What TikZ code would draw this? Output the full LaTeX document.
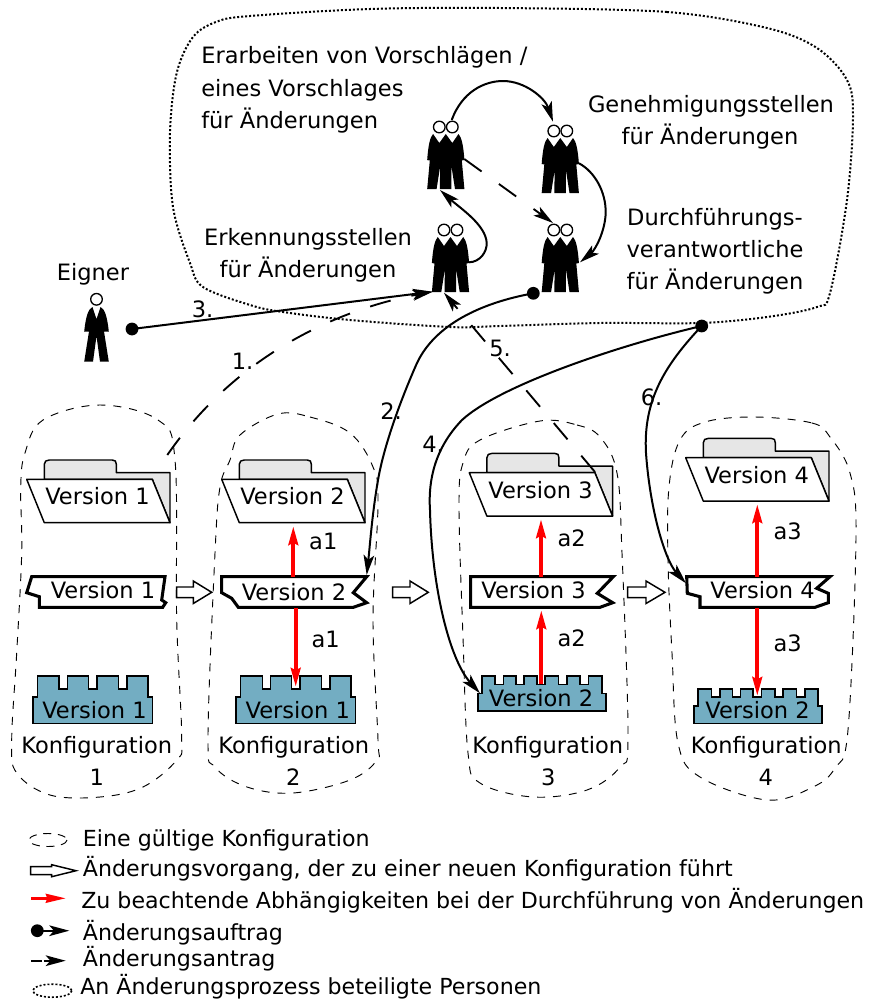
\documentclass[tikz,border=0pt]{standalone}
\usepackage{fontspec}
\setmainfont{DejaVu Sans}
\usetikzlibrary{arrows.meta}
\definecolor{confblue}{HTML}{73ADC2}
\definecolor{foldergray}{HTML}{E6E6E6}
\tikzset{
  x=0.75pt,y=-0.75pt,
  txt/.style={inner sep=0pt,anchor=base,font=\fontsize{16.9pt}{20pt}\selectfont},
  ltxt/.style={inner sep=0pt,anchor=base west,font=\fontsize{16.9pt}{20pt}\selectfont},
  legtxt/.style={inner sep=0pt,anchor=base west,font=\fontsize{16.6pt}{20pt}\selectfont},
  blob/.style={draw,line width=0.7pt,dash pattern=on 6pt off 6pt},
  dotline/.style={draw,line width=1.5pt,dash pattern=on 1.5pt off 1.5pt},
  hollow/.style={draw,fill=white,line width=1.1pt},
  flag/.style={draw,fill=white,line width=2.3pt,miter limit=4},
  conf/.style={draw,fill=confblue,line width=1.2pt},
  fold/.style={draw,line width=1.1pt,line join=round},
  tipk/.style={-{Stealth[length=15pt,width=8pt,inset=3.5pt]}},
  conn/.style={draw,line width=1.5pt,tipk},
  req/.style={draw,line width=1.4pt,dash pattern=on 16pt off 16pt,tipk},
  dep/.style={draw=red,line width=3.2pt,-{Stealth[length=14pt,width=7pt,inset=1.5pt]}},
  dotm/.style={fill=black,circle,minimum size=9.6pt,inner sep=0pt},
  folder/.pic={
    \path[fold,fill=foldergray] (17.6,0) -- (17.6,-15) .. controls (17.6,-18) and (19.6,-19.3) .. (22.6,-19.3)
      -- (85.6,-19.3) .. controls (88.6,-19.3) and (89.6,-18) .. (89.6,-15) -- (89.6,-6.6) -- (143.3,-6.6) -- (143.3,43.4) -- (125.6,0) -- cycle;
    \path[fold,fill=white] (0,0) -- (125.6,0) -- (143.3,43.4) -- (17.6,43.4) -- cycle;
  },
  castlea/.pic={
    \path[conf] (0,47.3) -- (119.6,47.3) -- (119.6,20.7) -- (115,20.7) -- (115,0) -- (94,0) -- (94,12.7) -- (85.6,12.7) -- (85.6,0)
      -- (64,0) -- (64,12.7) -- (55.6,12.7) -- (55.6,0) -- (34.6,0) -- (34.6,12.7) -- (26.3,12.7) -- (26.3,0) -- (4.6,0) -- (4.6,20.7) -- (0,20.7) -- cycle;
  },
  castleb/.pic={
    \path[conf] (0,34.7) -- (128,34.7) -- (128,17.3) -- (124,17.3) -- (124,0) -- (110.7,0) -- (110.7,8.3) -- (102.3,8.3) -- (102.3,0)
      -- (89,0) -- (89,8.3) -- (80.7,8.3) -- (80.7,0) -- (67.3,0) -- (67.3,8.3) -- (59,8.3) -- (59,0) -- (46.3,0) -- (46.3,8.3) -- (38.3,8.3) -- (38.3,0)
      -- (25.7,0) -- (25.7,8.3) -- (17.3,8.3) -- (17.3,0) -- (4,0) -- (4,17.3) -- (0,17.3) -- cycle;
  },
  trio/.pic={
    \fill[black] (-12.7,0) .. controls (-15.5,3) and (-17.5,10) .. (-18.6,26) -- (-16,26.5) -- (-18.6,55) -- (-9.2,55) -- (-5.6,32) -- (-6,55) -- (5.6,55) -- (5.6,32) -- (9.2,55) -- (18.6,55) -- (16,26.5) -- (18.6,26)
      .. controls (17.5,10) and (15.5,3) .. (12.7,0) -- (6.5,9) -- (0,0) -- (-6.5,9) -- cycle;
    \draw[fill=white,line width=1pt] (-6.5,-7) circle [radius=5.8];
    \draw[fill=white,line width=1pt] (6.5,-7) circle [radius=5.8];
  },
  single/.pic={
    \fill[black] (-4,0) .. controls (-8,2) and (-10.5,8) .. (-12.3,24.5) -- (-7.5,24.5) -- (-12.3,54.7) -- (-3.5,54.7) -- (0,29) -- (3.5,54.7) -- (12.3,54.7) -- (7.5,24.5) -- (12.3,24.5)
      .. controls (10.5,8) and (8,2) .. (4,0) -- (0,12) -- cycle;
    \draw[fill=white,line width=1pt] (0,-7.7) circle [radius=5.8];
  },
}
\begin{document}
\begin{tikzpicture}
\useasboundingbox (0,0) rectangle (894,1001);
% dotted cloud
\path[dotline] plot[smooth cycle,tension=0.55] coordinates {(500,8)(667,12)(767,28)(817,48)(847,80)(853,117)(847,200)(830,293)(817,307)(767,317)(700,323)(600,323)(500,326)(450,327)(350,320)(283,312)(250,305)(203,287)(190,263)(173,207)(170,133)(176.7,73)(193,37)(216.7,21.7)(250,16)(370,9)};
% configuration blobs
\path[blob] plot[smooth cycle,tension=0.6] coordinates {(100,405)(158,420)(175,460)(176.7,620)(181.7,737)(176.7,760)(143,787)(100,797)(50,795)(16.7,773)(11.7,740)(16.7,653)(21.7,553)(20.7,487)(25,453)(43,420)};
\path[blob] plot[smooth cycle,tension=0.6] coordinates {(278,414)(310,417)(350,433)(373,467)(378,503)(373,620)(378,740)(377,760)(350,780)(293,793)(247,787)(215,767)(208,737)(215,553)(220,487)(230,460)(240,435)};
\path[blob] plot[smooth cycle,tension=0.6] coordinates {(540,421)(577,425)(600,437)(617,473)(622,553)(628,737)(620,767)(587,790)(533,797)(480,783)(468,753)(463,637)(459,507)(463,463)(480,440)};
\path[blob] plot[smooth cycle,tension=0.6] coordinates {(755,417)(812,423)(830,437)(850,473)(856,537)(848,730)(835,768)(813,787)(767,800)(700,777)(678,743)(672,653)(668,560)(669,487)(680,440)(705,422)};
% folders
\pic (fa) at (26.7,479.3) {folder};
\pic (fb) at (221.7,479.3) {folder};
\pic (fc) at (469.3,472.7) {folder};
\pic (fd) at (685.7,457.7) {folder};
% change flags
\path[flag] (31.7,576.7) -- (165,576.7) -- (161.7,600) -- (165.7,602.7) -- (162.7,607.3) -- (39.3,607.3) -- (39.3,596.7) -- (26.7,592.7) -- cycle;
\path[flag] (221.7,576.7) -- (366.7,576.7) -- (353.3,592.7) -- (366.7,602.7) -- (353.3,607.3) -- (238.3,607.3) -- (231.7,598.3) -- (221.7,592.7) -- cycle;
\path[flag] (470.7,576.7) -- (613.3,576.7) -- (597.3,593.3) -- (612.7,602.7) -- (600,607.3) -- (470.7,607.3) -- cycle;
\path[flag] (686.7,576.7) -- (830,576.7) -- (816.7,588.3) -- (828.3,593.3) -- (828.3,602.7) -- (815,607.3) -- (700,607.3) -- (700,596.7) -- (687.3,593.3) -- cycle;
% baselines
\pic (ca) at (32.7,676) {castlea};
\pic (cb) at (236,676) {castlea};
\pic (cc) at (477.7,676) {castleb};
\pic (cd) at (694,688.7) {castleb};
% people
\pic (pa) at (445.8,134) {trio};
\pic (pb) at (560.3,138) {trio};
\pic (pc) at (450.5,237) {trio};
\pic (pd) at (560.3,237) {trio};
\pic (pe) at (96.5,307) {single};
% anchors
\coordinate (eignerdot) at (132,329);
\coordinate (cfeet) at (432.7,291.7);
\coordinate (cfront) at (444,292.7);
\coordinate (ahead) at (451.7,120);
\coordinate (bhead) at (553,121.7);
\coordinate (bside) at (579,163.3);
\coordinate (dside) at (580,262.3);
\coordinate (cside) at (469,262.3);
\coordinate (afeet) at (440,190);
\coordinate (aside) at (464.3,159);
\coordinate (dhead) at (553,223);
\coordinate (pddot) at (533.3,293.3);
\coordinate (orddot) at (701.7,326);
\coordinate (flagb) at (366.7,575);
\coordinate (confc) at (480,693.3);
\coordinate (flagd) at (686,583.3);
\coordinate (blobone) at (167.3,455);
\coordinate (foldc) at (595,472);
% red dependencies
\coordinate (fbb) at (293.3,526); \coordinate (fltb) at (293.3,577);
\coordinate (flbb) at (295.7,608); \coordinate (cbt) at (295.7,687);
\coordinate (fcb) at (541,519); \coordinate (fltc) at (541,577);
\coordinate (flbc) at (541.3,610); \coordinate (cct) at (541.3,684);
\coordinate (fdb) at (757.3,504); \coordinate (fltd) at (757.3,577);
\coordinate (flbd) at (757.3,608); \coordinate (cdt) at (757.3,696);
\path[dep] (fltb) -- (fbb);
\path[dep] (flbb) -- (cbt);
\path[dep] (fltc) -- (fcb);
\path[dep] (cct) -- (flbc);
\path[dep] (fltd) -- (fdb);
\path[dep] (flbd) -- (cdt);
% hollow transition arrows
\path[hollow] (176.7,587) -- (193.3,587) -- (193.3,581) -- (211.7,592.3) -- (193.3,603.5) -- (193.3,597.7) -- (176.7,597.7) -- cycle;
\path[hollow] (392.7,587) -- (410,587) -- (410,581) -- (428.3,592.3) -- (410,603.5) -- (410,597.7) -- (392.7,597.7) -- cycle;
\path[hollow] (627.7,587) -- (646,587) -- (646,581) -- (665,592.3) -- (646,603.5) -- (646,597.7) -- (627.7,597.7) -- cycle;
% connectors
\path[conn] (eignerdot) -- (cfeet);
\node[dotm] at (eignerdot) {};
\path[req] (blobone) .. controls (240,350) and (345,308) .. (cfeet);
\path[req] (foldc) -- (cfront);
\path[conn] (ahead) .. controls (462,92) and (484,81) .. (503,81) .. controls (525,81) and (545,98) .. (bhead);
\path[conn] (bside) .. controls (595,172) and (606,192) .. (605.7,213) .. controls (605,232) and (595,250) .. (dside);
\path[conn] (cside) .. controls (480,262) and (487,252) .. (486.7,243) .. controls (486,225) and (460,208) .. (afeet);
\path[req] (aside) -- (dhead);
\path[conn] (pddot) .. controls (480,303) and (435,325) .. (417,363) .. controls (405,390) and (385,440) .. (378,480) .. controls (372,515) and (370,545) .. (flagb);
\node[dotm] at (pddot) {};
\path[conn] (orddot) .. controls (620,345) and (500,385) .. (462,420) .. controls (435,448) and (428,480) .. (430,510) .. controls (432,590) and (450,660) .. (confc);
\path[conn] (orddot) .. controls (665,365) and (643,400) .. (646,453) .. controls (650,510) and (665,560) .. (flagd);
\node[dotm] at (orddot) {};
% texts
\node[ltxt] (t1) at (201,63) {Erarbeiten von Vorschlägen /};
\node[ltxt] (t2) at (201,96) {eines Vorschlages};
\node[ltxt] (t3) at (201,128) {für Änderungen};
\node[txt] (t4) at (711,112) {Genehmigungsstellen};
\node[txt] (t5) at (710,144) {für Änderungen};
\node[txt] (t6) at (715,225) {Durchführungs-};
\node[txt] (t7) at (715,257) {verantwortliche};
\node[txt] (t8) at (715,289) {für Änderungen};
\node[txt] (t9) at (308,245) {Erkennungsstellen};
\node[txt] (t10) at (308,277) {für Änderungen};
\node[txt] (t11) at (93,280) {Eigner};
\node[txt] (n3) at (202.5,317) {3.};
\node[txt] (n1) at (242.5,369) {1.};
\node[txt] (n2) at (391,419) {2.};
\node[txt] (n4) at (433,452) {4.};
\node[txt] (n5) at (500,356) {5.};
\node[txt] (n6) at (651.5,405) {6.};
\node[txt] (v1) at (97.5,504) {Version 1};
\node[txt] (v2) at (292.5,504) {Version 2};
\node[txt] (v3) at (540.5,498) {Version 3};
\node[txt] (v4) at (756.7,483) {Version 4};
\node[txt] (w1) at (103,598.7) {Version 1};
\node[txt] (w2) at (294,600) {Version 2};
\node[txt] (w3) at (533.5,598.7) {Version 3};
\node[txt] (w4) at (762.5,598.7) {Version 4};
\node[txt] (x1) at (94.5,718.3) {Version 1};
\node[txt] (x2) at (297.8,718.3) {Version 1};
\node[txt] (x3) at (541,706) {Version 2};
\node[txt] (x4) at (757.5,718.3) {Version 2};
\node[txt] (k1) at (96.7,753.3) {Konfiguration};
\node[txt] (k2) at (293.8,753.3) {Konfiguration};
\node[txt] (k3) at (547.8,753.3) {Konfiguration};
\node[txt] (k4) at (766.3,753.3) {Konfiguration};
\node[txt] (m1) at (96.7,785) {1};
\node[txt] (m2) at (293.3,785) {2};
\node[txt] (m3) at (548.3,785) {3};
\node[txt] (m4) at (765.7,785) {4};
\node[txt] (a1u) at (323.3,549.3) {a1};
\node[txt] (a1l) at (325.7,647.3) {a1};
\node[txt] (a2u) at (571.7,546.7) {a2};
\node[txt] (a2l) at (571.7,646) {a2};
\node[txt] (a3u) at (787.7,539) {a3};
\node[txt] (a3l) at (787.7,651.7) {a3};
% legend
\draw[line width=0.7pt,dash pattern=on 6pt off 5pt] (48,840) ellipse [x radius=19,y radius=6.5];
\node[legtxt] (l1) at (82.7,846.7) {Eine gültige Konfiguration};
\path[hollow] (30.7,866.7) -- (51.7,866.7) -- (51.7,864.7) -- (76,870.7) -- (51.7,876.7) -- (51.7,874.7) -- (30.7,874.7) -- cycle;
\node[legtxt] (l2) at (82.7,876.5) {Änderungsvorgang, der zu einer neuen Konfiguration führt};
\coordinate (lra) at (31,898.3); \coordinate (lrb) at (66,898.3);
\path[draw=red,line width=2.4pt,-{Stealth[length=15pt,width=6.5pt,inset=1pt]}] (lra) -- (lrb);
\node[legtxt] (l3) at (81,908) {Zu beachtende Abhängigkeiten bei der Durchführung von Änderungen};
\coordinate (lda) at (37.3,930.7); \coordinate (ldb) at (69.3,930.7);
\path[conn] (lda) -- (ldb);
\node[dotm] at (lda) {};
\node[legtxt] (l4) at (82.7,940) {Änderungsauftrag};
\coordinate (lqa) at (31,960.7); \coordinate (lqb) at (65.7,960.7);
\path[draw,line width=1.4pt,dash pattern=on 8pt off 1.5pt,tipk] (lqa) -- (lqb);
\node[legtxt] (l5) at (82.7,966.7) {Änderungsantrag};
\path[dotline,line width=1.2pt,dash pattern=on 1.5pt off 1.5pt] (52.3,990.7) ellipse [x radius=19.5,y radius=6.5];
\node[legtxt] (l6) at (80,994) {An Änderungsprozess beteiligte Personen};
\end{tikzpicture}
\end{document}
